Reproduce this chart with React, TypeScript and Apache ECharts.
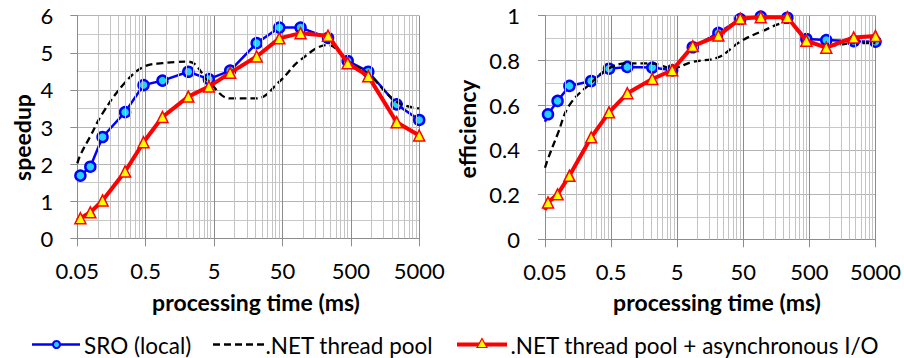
import React, { useEffect, useRef } from "react";
import * as echarts from "echarts";

// processing times (ms) of the measured points
const timesMs = [0.0555, 0.0775, 0.117, 0.25, 0.465, 0.88, 2.1, 4.2, 8.6, 21, 45, 92, 232, 450, 900, 2340, 5000];
// speedup
const speedupSRO = [1.69, 1.93, 2.73, 3.4, 4.13, 4.25, 4.49, 4.29, 4.52, 5.26, 5.68, 5.68, 5.4, 4.78, 4.49, 3.61, 3.19];
const speedupPool = [2.25, 2.75, 3.37, 4.2, 4.62, 4.72, 4.76, 4.22, 3.77, 3.77, 4.22, 4.81, 5.21, 4.78, 4.43, 3.68, 3.5];
const speedupAsync = [0.54, 0.7, 1.02, 1.8, 2.59, 3.27, 3.82, 4.09, 4.46, 4.9, 5.39, 5.53, 5.46, 4.72, 4.37, 3.13, 2.77];
// efficiency
const efficiencySRO = [0.559, 0.619, 0.686, 0.708, 0.763, 0.771, 0.768, 0.756, 0.859, 0.923, 0.985, 0.996, 0.991, 0.896, 0.891, 0.886, 0.884];
const efficiencyPool = [0.36, 0.47, 0.6, 0.7, 0.765, 0.787, 0.786, 0.766, 0.794, 0.814, 0.884, 0.928, 0.969, 0.891, 0.864, 0.877, 0.877];
const efficiencyAsync = [0.165, 0.201, 0.284, 0.456, 0.568, 0.653, 0.717, 0.756, 0.864, 0.911, 0.987, 0.993, 0.993, 0.888, 0.857, 0.903, 0.909];
// where each line meets the left edge of the plot (time = 0.05 ms): SRO, pool, async
const minTimeMs = 0.05;
const speedupAtMinTime = [1.62, 2.02, 0.49];
const efficiencyAtMinTime = [0.526, 0.32, 0.131];

const seriesNames = ["SRO (local)", ".NET thread pool", ".NET thread pool + asynchronous I/O"];
const timeTickLabels = ["0.05", "0.5", "5", "50", "500", "5000"];
const minorMultiples = [2, 3, 4, 5, 6, 7, 8, 9];
const decades = [0, 1, 2, 3, 4];

const FONT = "Lato";

const toU = (t: number) => Math.log10(t / minTimeMs);

function buildData(vals: number[], atMin: number, hideFirst: boolean) {
  const first: any = { value: [0, atMin] };
  if (hideFirst) first.symbol = "none";
  return [first, ...timesMs.map((t, i) => [toU(t), vals[i]])];
}

export default function App() {
  const ref = useRef<HTMLDivElement>(null);
  useEffect(() => {
    document.body.style.margin = "0";
    const chart = echarts.init(ref.current!, null, { renderer: "svg" });
    const minorU: number[] = [];
    decades.forEach((d) => minorMultiples.forEach((k) => minorU.push(d + Math.log10(k))));

    const xAxisBase = (gi: number) => ({
      type: "value",
      gridIndex: gi,
      min: 0,
      max: 5,
      interval: 1,
      axisLine: { show: true, onZero: false, lineStyle: { color: "#8c8c8c", width: 1 } },
      axisTick: { show: true, length: 8, lineStyle: { color: "#8c8c8c" } },
      axisLabel: {
        formatter: (v: number) => timeTickLabels[Math.round(v)],
        fontSize: 22,
        lineHeight: 22,
        fontFamily: FONT,
        color: "#000",
        margin: 21,
        showMinLabel: true,
        showMaxLabel: true,
      },
      splitLine: { show: true, lineStyle: { color: "#8c8c8c", width: 1 } },
    });
    const yAxisBase = (gi: number, max: number, interval: number, margin: number) => ({
      type: "value",
      gridIndex: gi,
      min: 0,
      max,
      interval,
      axisLine: { show: true, lineStyle: { color: "#8c8c8c", width: 1 } },
      axisTick: { show: true, length: 7, lineStyle: { color: "#8c8c8c" } },
      axisLabel: { fontSize: 22, fontFamily: FONT, color: "#000", margin },
      splitLine: { show: true, lineStyle: { color: "#b4b4b4", width: 1 } },
      minorTick: { show: false, splitNumber: 2 },
      minorSplitLine: { show: true, lineStyle: { color: "#c8c8c8", width: 1 } },
    });

    const minorHelper = (gi: number) => ({
      type: "line",
      xAxisIndex: gi,
      yAxisIndex: gi,
      data: [],
      silent: true,
      z: 1,
      markLine: {
        silent: true,
        symbol: ["none", "none"],
        label: { show: false },
        lineStyle: { color: "#c4c4c4", width: 1, type: "solid" },
        emphasis: { disabled: true },
        data: minorU.map((u) => ({ xAxis: u })),
      },
    });

    const sroSeries = (gi: number, vals: number[], atMin: number) => ({
      name: seriesNames[0],
      type: "line",
      xAxisIndex: gi,
      yAxisIndex: gi,
      z: 3,
      data: buildData(vals, atMin, true),
      symbol: "circle",
      symbolSize: 10,
      showAllSymbol: true,
      lineStyle: { color: "#0000ff", width: 2.5 },
      itemStyle: { color: "#22d3ff", borderColor: "#0000ff", borderWidth: 2.5 },
    });
    const poolSeries = (gi: number, vals: number[], atMin: number) => ({
      name: seriesNames[1],
      type: "line",
      xAxisIndex: gi,
      yAxisIndex: gi,
      z: 4,
      data: buildData(vals, atMin, false),
      symbol: "none",
      smooth: 0.4,
      lineStyle: { color: "#000000", width: 2.3, type: [7, 4] },
    });
    const asyncSeries = (gi: number, vals: number[], atMin: number) => ({
      name: seriesNames[2],
      type: "line",
      xAxisIndex: gi,
      yAxisIndex: gi,
      z: 5,
      data: buildData(vals, atMin, true),
      symbol: "triangle",
      symbolSize: 11,
      showAllSymbol: true,
      lineStyle: { color: "#ff0000", width: 4 },
      itemStyle: { color: "#ffff00", borderColor: "#ff0000", borderWidth: 1.5 },
    });

    const title = (text: string, x: number, y: number, rotation = 0) => ({
      type: "text",
      x,
      y,
      rotation,
      style: { text, font: `bold 23px ${FONT}`, fill: "#000", align: "center", verticalAlign: "middle" },
    });
    const legendText = (text: string, x: number) => ({
      type: "text",
      x,
      y: 345,
      style: { text, font: `22.5px ${FONT}`, fill: "#000", align: "left", verticalAlign: "middle" },
    });
    const ly = 344.5;

    chart.setOption({
      animation: false,
      grid: [
        { left: 77.3, top: 15.7, width: 341.9, height: 222.6 },
        { left: 545, top: 15.7, width: 330.7, height: 223.6 },
      ],
      xAxis: [xAxisBase(0), xAxisBase(1)],
      yAxis: [yAxisBase(0, 6, 1, 24), yAxisBase(1, 1, 0.2, 25)],
      series: [
        minorHelper(0),
        minorHelper(1),
        sroSeries(0, speedupSRO, speedupAtMinTime[0]),
        poolSeries(0, speedupPool, speedupAtMinTime[1]),
        asyncSeries(0, speedupAsync, speedupAtMinTime[2]),
        sroSeries(1, efficiencySRO, efficiencyAtMinTime[0]),
        poolSeries(1, efficiencyPool, efficiencyAtMinTime[1]),
        asyncSeries(1, efficiencyAsync, efficiencyAtMinTime[2]),
      ],
      graphic: [
        title("processing time (ms)", 256, 302),
        title("processing time (ms)", 717, 302),
        title("speedup", 22, 137.5, Math.PI / 2),
        title("efficiency", 467, 129, Math.PI / 2),
        // legend
        { type: "line", shape: { x1: 32, y1: ly, x2: 80, y2: ly }, style: { stroke: "#0000ff", lineWidth: 2.5 } },
        { type: "circle", shape: { cx: 56.5, cy: ly, r: 3.5 }, style: { fill: "#22d3ff", stroke: "#0000ff", lineWidth: 2 } },
        legendText(seriesNames[0], 84),
        { type: "line", shape: { x1: 213, y1: ly, x2: 265, y2: ly }, style: { stroke: "#000", lineWidth: 2.3, lineDash: [7, 4] } },
        legendText(seriesNames[1], 265.5),
        { type: "line", shape: { x1: 457, y1: ly, x2: 507, y2: ly }, style: { stroke: "#ff0000", lineWidth: 4 } },
        {
          type: "polygon",
          shape: { points: [[482, ly - 6], [487, ly + 3], [477, ly + 3]] },
          style: { fill: "#ffff00", stroke: "#ff0000", lineWidth: 1.2 },
          z: 10,
        },
        legendText(seriesNames[2], 510.5),
      ],
    });
    return () => chart.dispose();
  }, []);
  return <div ref={ref} style={{ width: 904, height: 358 }} />;
}
